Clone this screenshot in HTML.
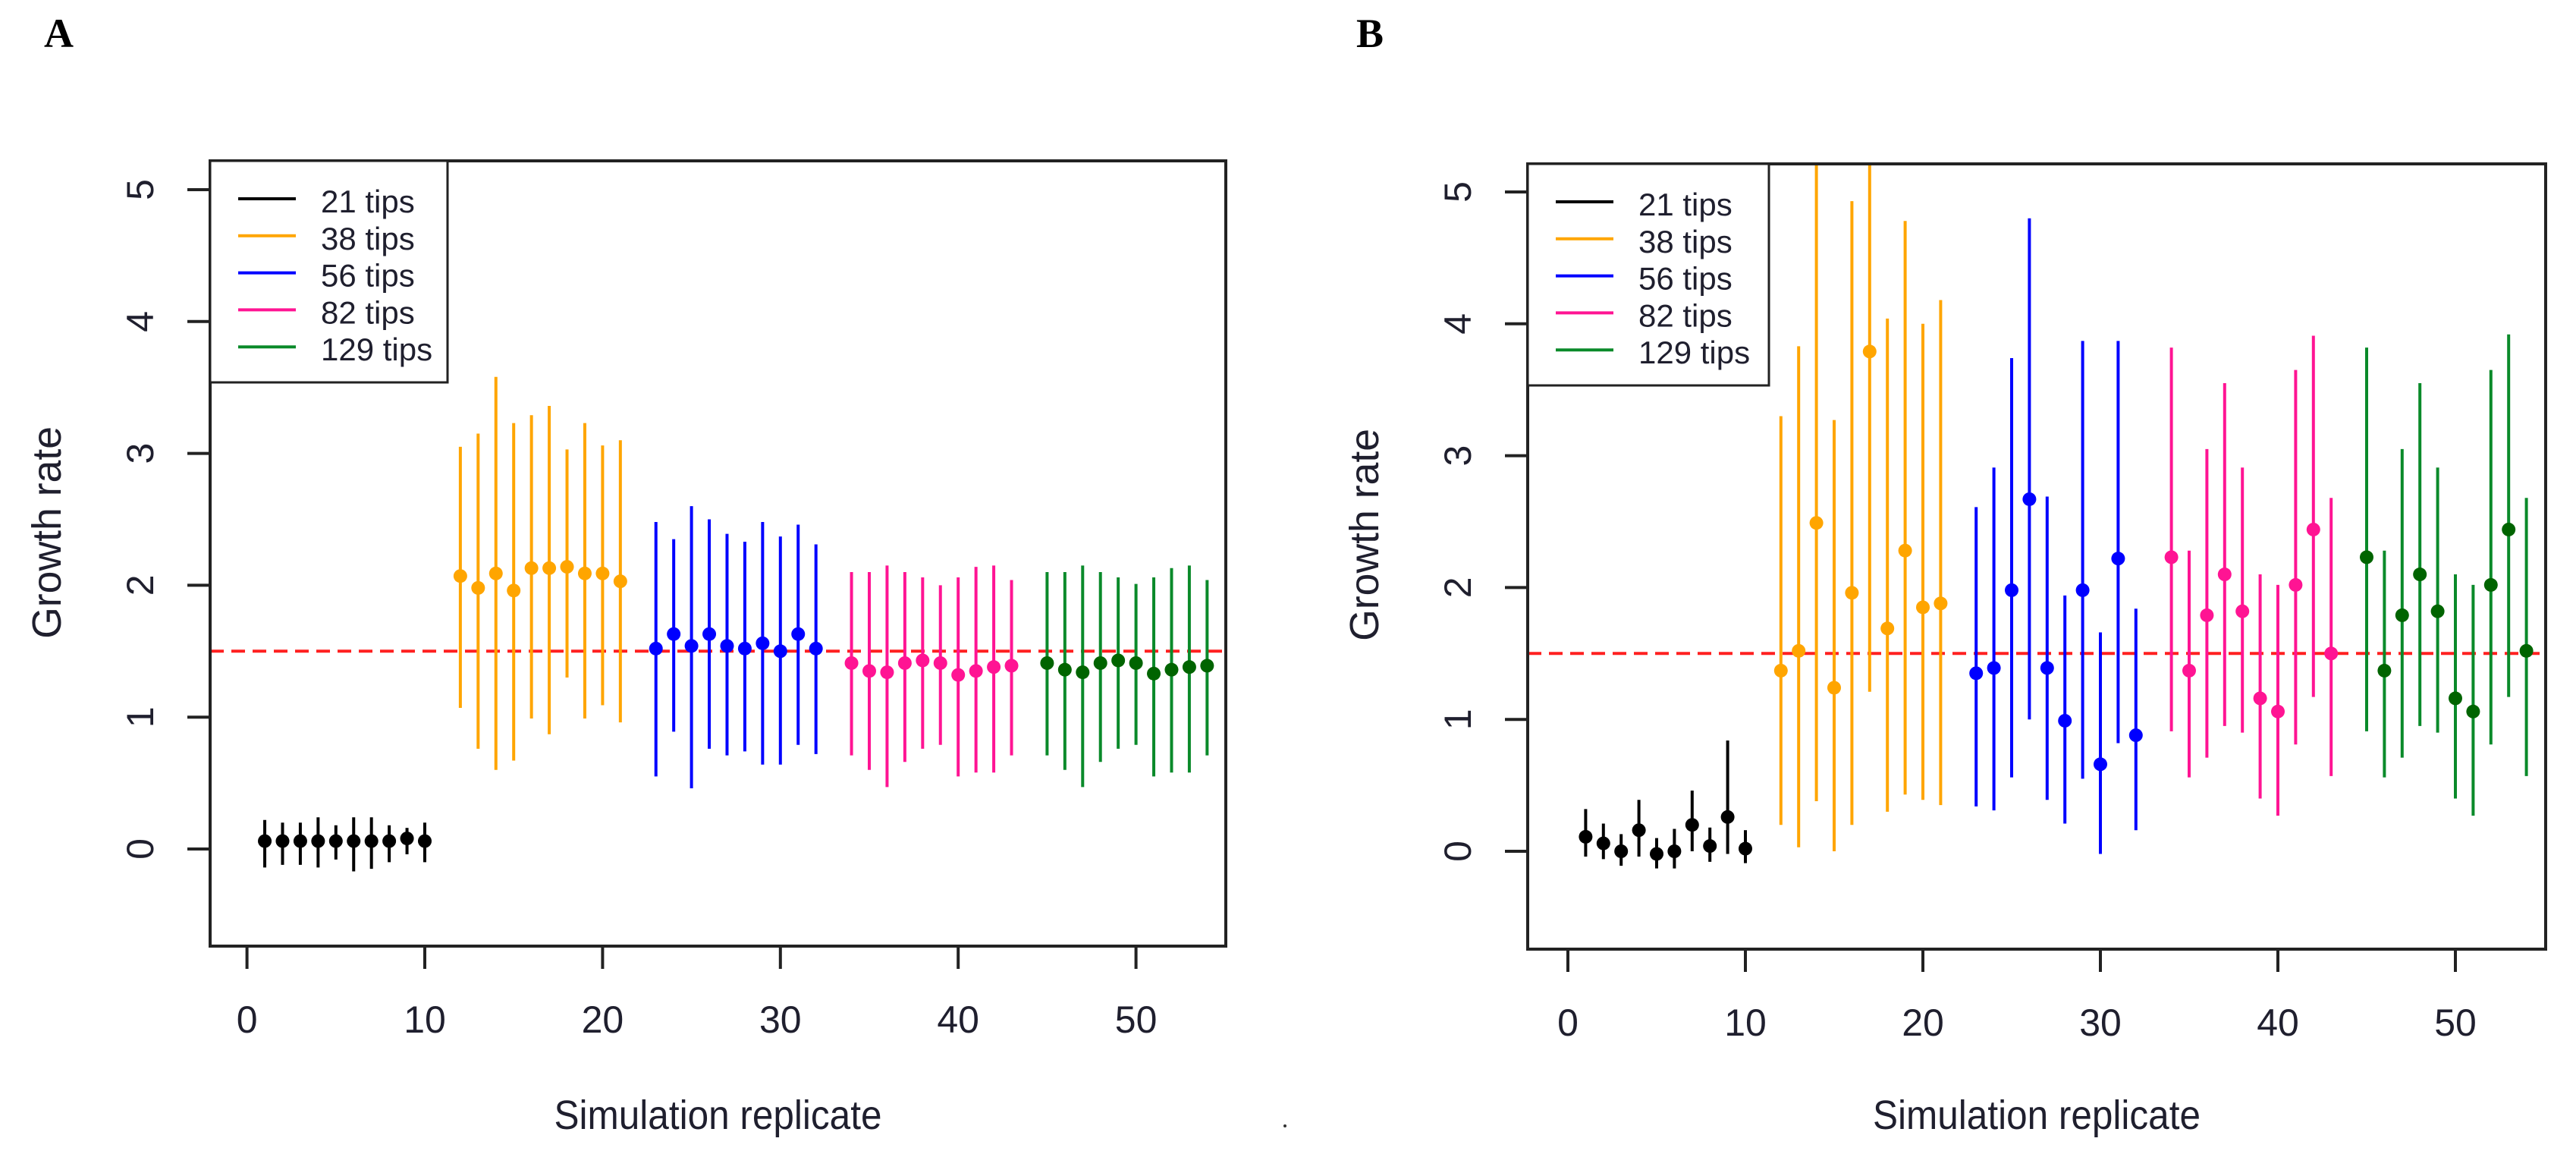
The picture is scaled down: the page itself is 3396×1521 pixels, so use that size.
<!DOCTYPE html>
<html><head><meta charset="utf-8"><style>
html,body{margin:0;padding:0;background:#fff}
svg{display:block}
text{font-family:"Liberation Sans",sans-serif;fill:#1f1f2e}
text.serif{font-family:"Liberation Serif",serif;fill:#000;font-weight:bold}
</style></head><body>
<svg id="chart" width="3396" height="1521" viewBox="0 0 3396 1521" xmlns="http://www.w3.org/2000/svg"></svg>
<script>
const groupNames = ["21 tips","38 tips","56 tips","82 tips","129 tips"];
const groupColors = ["#000000","#FFA500","#0000FF","#FF1493","#0A8A2A"];
const pointColors = ["#000000","#FFA500","#0000FF","#FF1493","#006400"];
const groupStart = [1,12,23,34,45];
const xTicks = [0,10,20,30,40,50];
const yTicks = [0,1,2,3,4,5];
const refLine = 1.5;

const aMid = [
 [0.06,0.06,0.06,0.06,0.06,0.06,0.06,0.06,0.08,0.06],
 [2.07,1.98,2.09,1.96,2.13,2.13,2.14,2.09,2.09,2.03],
 [1.52,1.63,1.54,1.63,1.54,1.52,1.56,1.50,1.63,1.52],
 [1.41,1.35,1.34,1.41,1.43,1.41,1.32,1.35,1.38,1.39],
 [1.41,1.36,1.34,1.41,1.43,1.41,1.33,1.36,1.38,1.39]];
const aLo = [
 [-0.14,-0.12,-0.12,-0.14,-0.08,-0.17,-0.15,-0.10,-0.04,-0.10],
 [1.07,0.76,0.60,0.67,0.99,0.87,1.30,0.99,1.09,0.96],
 [0.55,0.89,0.46,0.76,0.71,0.74,0.64,0.64,0.79,0.72],
 [0.71,0.60,0.47,0.66,0.76,0.79,0.55,0.58,0.58,0.71],
 [0.71,0.60,0.47,0.66,0.76,0.79,0.55,0.58,0.58,0.71]];
const aHi = [
 [0.22,0.20,0.20,0.24,0.18,0.24,0.24,0.18,0.16,0.20],
 [3.05,3.15,3.58,3.23,3.29,3.36,3.03,3.23,3.06,3.10],
 [2.48,2.35,2.60,2.50,2.39,2.33,2.48,2.37,2.46,2.31],
 [2.10,2.10,2.15,2.10,2.06,2.00,2.06,2.14,2.15,2.04],
 [2.10,2.10,2.15,2.10,2.06,2.01,2.06,2.13,2.15,2.04]];

const bMid = [
 [0.11,0.06,0.00,0.16,-0.02,0.00,0.20,0.04,0.26,0.02],
 [1.37,1.52,2.49,1.24,1.96,3.79,1.69,2.28,1.85,1.88],
 [1.35,1.39,1.98,2.67,1.39,0.99,1.98,0.66,2.22,0.88],
 [2.23,1.37,1.79,2.10,1.82,1.16,1.06,2.02,2.44,1.50],
 [2.23,1.37,1.79,2.10,1.82,1.16,1.06,2.02,2.44,1.52]];
const bLo = [
 [-0.04,-0.06,-0.11,-0.04,-0.13,-0.13,0.00,-0.08,-0.02,-0.09],
 [0.20,0.03,0.38,0.00,0.20,1.21,0.30,0.43,0.39,0.35],
 [0.34,0.31,0.56,1.00,0.39,0.21,0.55,-0.02,0.82,0.16],
 [0.91,0.56,0.71,0.95,0.90,0.40,0.27,0.81,1.17,0.57],
 [0.91,0.56,0.71,0.95,0.90,0.40,0.27,0.81,1.17,0.57]];
const bHi = [
 [0.32,0.21,0.13,0.39,0.10,0.17,0.46,0.18,0.84,0.16],
 [3.30,3.83,5.40,3.27,4.93,5.50,4.04,4.78,4.00,4.18],
 [2.61,2.91,3.74,4.80,2.69,1.94,3.87,1.66,3.87,1.84],
 [3.82,2.28,3.05,3.55,2.91,2.10,2.02,3.65,3.91,2.68],
 [3.82,2.28,3.05,3.55,2.91,2.10,2.02,3.65,3.92,2.68]];

const NS = "http://www.w3.org/2000/svg";
const svg = document.getElementById("chart");
function mk(tag, attrs, parent, txt){
  const e = document.createElementNS(NS, tag);
  for (const k in attrs) e.setAttribute(k, attrs[k]);
  if (txt !== undefined) e.textContent = txt;
  (parent||svg).appendChild(e);
  return e;
}

function panel(cfg, mid, lo, hi){
  const g = mk("g", {});
  
  
  const X = v => cfg.x0 + v*cfg.xs;
  const Y = v => cfg.y0 - v*cfg.ys;
  const L = cfg.box[0], T = cfg.box[1], R = cfg.box[2], B = cfg.box[3];
  const clipId = "clip"+cfg.id;
  const cp = mk("clipPath", {id: clipId}, g);
  mk("rect", {x:L, y:T, width:R-L, height:B-T}, cp);

  const lbl = mk("text", {x:cfg.letterX, y:62, "font-size":54, "class":"serif"}, g, cfg.id);
  
  

  const rl = mk("line", {x1:L, x2:R, y1:Y(refLine), y2:Y(refLine), stroke:"#FF2020", "stroke-width":4, "stroke-dasharray":"18 10"}, g);
  
  

  const marks = mk("g", {"clip-path":"url(#"+clipId+")"}, g);
  for (let gi=0; gi<mid.length; gi++){
    for (let i=0; i<mid[gi].length; i++){
      const xv = groupStart[gi]+i;
      const ln = mk("line", {x1:X(xv), x2:X(xv), y1:Y(lo[gi][i]), y2:Y(hi[gi][i]), stroke:groupColors[gi], "stroke-width":4}, marks);
      
      
      const c = mk("circle", {cx:X(xv), cy:Y(mid[gi][i]), r:9, fill:pointColors[gi]}, marks);
      
      
    }
  }

  const box = mk("rect", {x:L, y:T, width:R-L, height:B-T, fill:"none", stroke:"#222", "stroke-width":4}, g);
  
  

  xTicks.forEach(t=>{
    const tl = mk("line", {x1:X(t), x2:X(t), y1:B, y2:B+30, stroke:"#222", "stroke-width":4}, g);
    
    
    const tx = mk("text", {x:X(t), y:B+114, "text-anchor":"middle", "font-size":50}, g, String(t));
    
    
  });
  yTicks.forEach(t=>{
    const tl = mk("line", {x1:L-30, x2:L, y1:Y(t), y2:Y(t), stroke:"#222", "stroke-width":4}, g);
    
    
    const tx = mk("text", {x:0, y:0, "text-anchor":"middle", "font-size":50, transform:"translate("+(L-75)+","+Y(t)+") rotate(-90)"}, g, String(t));
    
    
  });

  const xt = mk("text", {x:(L+R)/2, y:1488, "text-anchor":"middle", "font-size":54, textLength:432, lengthAdjust:"spacingAndGlyphs"}, g, "Simulation replicate");
  
  
  const yt = mk("text", {x:0, y:0, "text-anchor":"middle", "font-size":54, textLength:280, lengthAdjust:"spacingAndGlyphs", transform:"translate("+cfg.yTitleX+","+Y(2.4)+") rotate(-90)"}, g, "Growth rate");
  
  

  const lg = mk("g", {}, g);
  
  
  const lr = mk("rect", {x:L, y:T, width:cfg.legW, height:292, fill:"#fff", stroke:"#222", "stroke-width":3}, lg);
  
  
  groupNames.forEach((n, i)=>{
    const yy = T + 50 + i*48.8;
    const e = mk("g", {}, lg);
    
    
    mk("line", {x1:L+37, x2:L+113, y1:yy, y2:yy, stroke:groupColors[i], "stroke-width":4}, e);
    mk("text", {x:L+146, y:yy+18, "font-size":42}, e, n);
  });
}

panel({id:"A", x0:325.6, xs:23.44, y0:1119, ys:173.8, box:[277,212,1616,1247], letterX:58, yTitleX:80, legW:313}, aMid, aLo, aHi);
panel({id:"B", x0:2067, xs:23.4, y0:1122, ys:173.8, box:[2014,216,3356,1251], letterX:1788, yTitleX:1817, legW:318}, bMid, bLo, bHi);
const dot = mk("circle", {cx:1694, cy:1484, r:2, fill:"#333"});


</script>
</body></html>
